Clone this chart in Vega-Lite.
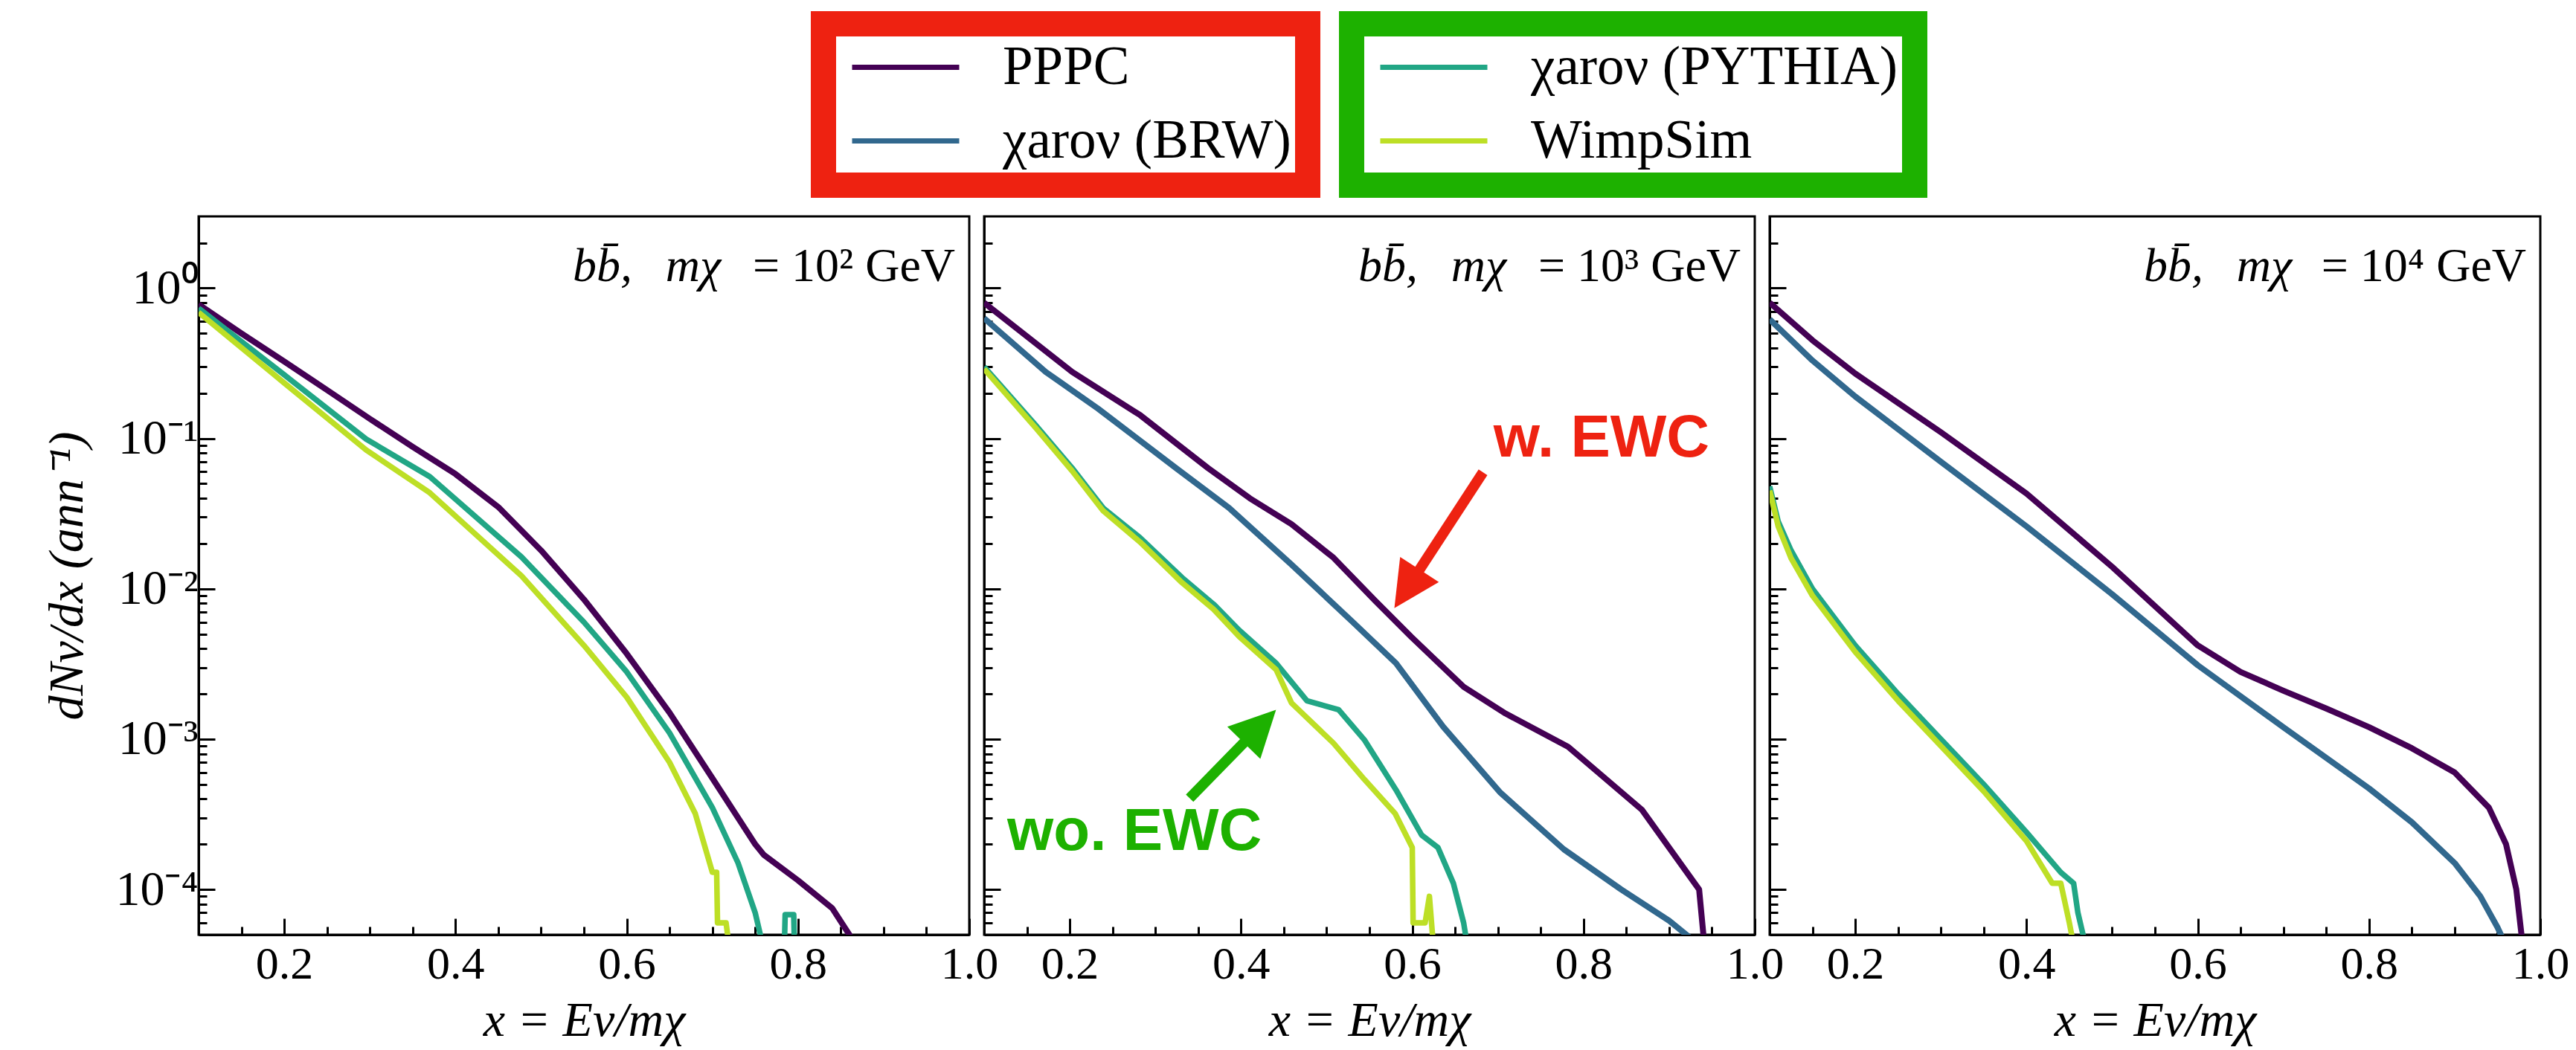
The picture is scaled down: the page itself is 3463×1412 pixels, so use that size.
{
  "$schema": "https://vega.github.io/schema/vega-lite/v6.json",
  "padding": {"left": 56, "top": 15, "right": 40, "bottom": 5},
  "bounds": "flush",
  "spacing": 20,
  "datasets": {
    "curves": [
      {"panel": "p1", "series": "PPPC", "x": 0.1, "y": 0.78},
      {"panel": "p1", "series": "PPPC", "x": 0.15, "y": 0.5},
      {"panel": "p1", "series": "PPPC", "x": 0.2, "y": 0.325},
      {"panel": "p1", "series": "PPPC", "x": 0.25, "y": 0.21},
      {"panel": "p1", "series": "PPPC", "x": 0.3, "y": 0.135},
      {"panel": "p1", "series": "PPPC", "x": 0.35, "y": 0.088},
      {"panel": "p1", "series": "PPPC", "x": 0.4, "y": 0.058},
      {"panel": "p1", "series": "PPPC", "x": 0.45, "y": 0.035},
      {"panel": "p1", "series": "PPPC", "x": 0.5, "y": 0.018},
      {"panel": "p1", "series": "PPPC", "x": 0.55, "y": 0.0085},
      {"panel": "p1", "series": "PPPC", "x": 0.6, "y": 0.0037},
      {"panel": "p1", "series": "PPPC", "x": 0.65, "y": 0.0015},
      {"panel": "p1", "series": "PPPC", "x": 0.7, "y": 0.00055},
      {"panel": "p1", "series": "PPPC", "x": 0.75, "y": 0.0002},
      {"panel": "p1", "series": "PPPC", "x": 0.76, "y": 0.00017},
      {"panel": "p1", "series": "PPPC", "x": 0.8, "y": 0.000115},
      {"panel": "p1", "series": "PPPC", "x": 0.84, "y": 0.000075},
      {"panel": "p1", "series": "PPPC", "x": 0.86, "y": 0.00005},
      {"panel": "p1", "series": "PPPC", "x": 0.87, "y": 0.00004},

      {"panel": "p1", "series": "χaroν (PYTHIA)", "x": 0.1, "y": 0.735},
      {"panel": "p1", "series": "χaroν (PYTHIA)", "x": 0.2, "y": 0.265},
      {"panel": "p1", "series": "χaroν (PYTHIA)", "x": 0.2957, "y": 0.099},
      {"panel": "p1", "series": "χaroν (PYTHIA)", "x": 0.37, "y": 0.0557},
      {"panel": "p1", "series": "χaroν (PYTHIA)", "x": 0.477, "y": 0.0163},
      {"panel": "p1", "series": "χaroν (PYTHIA)", "x": 0.55, "y": 0.006},
      {"panel": "p1", "series": "χaroν (PYTHIA)", "x": 0.6, "y": 0.0028},
      {"panel": "p1", "series": "χaroν (PYTHIA)", "x": 0.65, "y": 0.0011},
      {"panel": "p1", "series": "χaroν (PYTHIA)", "x": 0.7, "y": 0.00035},
      {"panel": "p1", "series": "χaroν (PYTHIA)", "x": 0.73, "y": 0.00015},
      {"panel": "p1", "series": "χaroν (PYTHIA)", "x": 0.75, "y": 0.00007},
      {"panel": "p1", "series": "χaroν (PYTHIA)", "x": 0.76, "y": 0.00004},
      {"panel": "p1", "series": "χaroν (PYTHIA)", "x": 0.784, "y": 0.00004},
      {"panel": "p1", "series": "χaroν (PYTHIA)", "x": 0.785, "y": 0.000068},
      {"panel": "p1", "series": "χaroν (PYTHIA)", "x": 0.795, "y": 0.000068},
      {"panel": "p1", "series": "χaroν (PYTHIA)", "x": 0.796, "y": 0.00004},

      {"panel": "p1", "series": "WimpSim", "x": 0.1, "y": 0.69},
      {"panel": "p1", "series": "WimpSim", "x": 0.2, "y": 0.234},
      {"panel": "p1", "series": "WimpSim", "x": 0.2957, "y": 0.0838},
      {"panel": "p1", "series": "WimpSim", "x": 0.37, "y": 0.0435},
      {"panel": "p1", "series": "WimpSim", "x": 0.477, "y": 0.0122},
      {"panel": "p1", "series": "WimpSim", "x": 0.55, "y": 0.0042},
      {"panel": "p1", "series": "WimpSim", "x": 0.6, "y": 0.0019},
      {"panel": "p1", "series": "WimpSim", "x": 0.65, "y": 0.0007},
      {"panel": "p1", "series": "WimpSim", "x": 0.68, "y": 0.00032},
      {"panel": "p1", "series": "WimpSim", "x": 0.7, "y": 0.00013},
      {"panel": "p1", "series": "WimpSim", "x": 0.705, "y": 0.00013},
      {"panel": "p1", "series": "WimpSim", "x": 0.706, "y": 0.00006},
      {"panel": "p1", "series": "WimpSim", "x": 0.716, "y": 0.00006},
      {"panel": "p1", "series": "WimpSim", "x": 0.72, "y": 0.00004},

      {"panel": "p2", "series": "PPPC", "x": 0.1, "y": 0.8},
      {"panel": "p2", "series": "PPPC", "x": 0.2028, "y": 0.277},
      {"panel": "p2", "series": "PPPC", "x": 0.2822, "y": 0.143},
      {"panel": "p2", "series": "PPPC", "x": 0.3615, "y": 0.0635},
      {"panel": "p2", "series": "PPPC", "x": 0.4103, "y": 0.04},
      {"panel": "p2", "series": "PPPC", "x": 0.459, "y": 0.0269},
      {"panel": "p2", "series": "PPPC", "x": 0.508, "y": 0.0161},
      {"panel": "p2", "series": "PPPC", "x": 0.5567, "y": 0.00833},
      {"panel": "p2", "series": "PPPC", "x": 0.599, "y": 0.00478},
      {"panel": "p2", "series": "PPPC", "x": 0.66, "y": 0.00223},
      {"panel": "p2", "series": "PPPC", "x": 0.709, "y": 0.00148},
      {"panel": "p2", "series": "PPPC", "x": 0.782, "y": 0.00089},
      {"panel": "p2", "series": "PPPC", "x": 0.868, "y": 0.00034},
      {"panel": "p2", "series": "PPPC", "x": 0.935, "y": 0.0001},
      {"panel": "p2", "series": "PPPC", "x": 0.94, "y": 0.00005},
      {"panel": "p2", "series": "PPPC", "x": 0.945, "y": 0.00003},

      {"panel": "p2", "series": "χaroν (BRW)", "x": 0.1, "y": 0.63},
      {"panel": "p2", "series": "χaroν (BRW)", "x": 0.172, "y": 0.277},
      {"panel": "p2", "series": "χaroν (BRW)", "x": 0.233, "y": 0.158},
      {"panel": "p2", "series": "χaroν (BRW)", "x": 0.325, "y": 0.063},
      {"panel": "p2", "series": "χaroν (BRW)", "x": 0.386, "y": 0.0345},
      {"panel": "p2", "series": "χaroν (BRW)", "x": 0.459, "y": 0.0145},
      {"panel": "p2", "series": "χaroν (BRW)", "x": 0.532, "y": 0.0059},
      {"panel": "p2", "series": "χaroν (BRW)", "x": 0.581, "y": 0.0032},
      {"panel": "p2", "series": "χaroν (BRW)", "x": 0.636, "y": 0.00121},
      {"panel": "p2", "series": "χaroν (BRW)", "x": 0.703, "y": 0.00044},
      {"panel": "p2", "series": "χaroν (BRW)", "x": 0.777, "y": 0.000185},
      {"panel": "p2", "series": "χaroν (BRW)", "x": 0.844, "y": 0.0001},
      {"panel": "p2", "series": "χaroν (BRW)", "x": 0.9, "y": 0.000062},
      {"panel": "p2", "series": "χaroν (BRW)", "x": 0.93, "y": 0.000045},

      {"panel": "p2", "series": "χaroν (PYTHIA)", "x": 0.1, "y": 0.3},
      {"panel": "p2", "series": "χaroν (PYTHIA)", "x": 0.16, "y": 0.123},
      {"panel": "p2", "series": "χaroν (PYTHIA)", "x": 0.2026, "y": 0.0638},
      {"panel": "p2", "series": "χaroν (PYTHIA)", "x": 0.239, "y": 0.0345},
      {"panel": "p2", "series": "χaroν (PYTHIA)", "x": 0.282, "y": 0.0219},
      {"panel": "p2", "series": "χaroν (PYTHIA)", "x": 0.331, "y": 0.0119},
      {"panel": "p2", "series": "χaroν (PYTHIA)", "x": 0.368, "y": 0.0079},
      {"panel": "p2", "series": "χaroν (PYTHIA)", "x": 0.398, "y": 0.0053},
      {"panel": "p2", "series": "χaroν (PYTHIA)", "x": 0.441, "y": 0.0032},
      {"panel": "p2", "series": "χaroν (PYTHIA)", "x": 0.477, "y": 0.0018},
      {"panel": "p2", "series": "χaroν (PYTHIA)", "x": 0.514, "y": 0.00157},
      {"panel": "p2", "series": "χaroν (PYTHIA)", "x": 0.544, "y": 0.00099},
      {"panel": "p2", "series": "χaroν (PYTHIA)", "x": 0.581, "y": 0.00046},
      {"panel": "p2", "series": "χaroν (PYTHIA)", "x": 0.611, "y": 0.00023},
      {"panel": "p2", "series": "χaroν (PYTHIA)", "x": 0.63, "y": 0.00019},
      {"panel": "p2", "series": "χaroν (PYTHIA)", "x": 0.648, "y": 0.00011},
      {"panel": "p2", "series": "χaroν (PYTHIA)", "x": 0.66, "y": 0.00006},
      {"panel": "p2", "series": "χaroν (PYTHIA)", "x": 0.665, "y": 0.00004},

      {"panel": "p2", "series": "WimpSim", "x": 0.1, "y": 0.29},
      {"panel": "p2", "series": "WimpSim", "x": 0.16, "y": 0.118},
      {"panel": "p2", "series": "WimpSim", "x": 0.2026, "y": 0.061},
      {"panel": "p2", "series": "WimpSim", "x": 0.239, "y": 0.033},
      {"panel": "p2", "series": "WimpSim", "x": 0.282, "y": 0.0205},
      {"panel": "p2", "series": "WimpSim", "x": 0.331, "y": 0.011},
      {"panel": "p2", "series": "WimpSim", "x": 0.368, "y": 0.0073},
      {"panel": "p2", "series": "WimpSim", "x": 0.398, "y": 0.0048},
      {"panel": "p2", "series": "WimpSim", "x": 0.441, "y": 0.0029},
      {"panel": "p2", "series": "WimpSim", "x": 0.459, "y": 0.00174},
      {"panel": "p2", "series": "WimpSim", "x": 0.508, "y": 0.00094},
      {"panel": "p2", "series": "WimpSim", "x": 0.544, "y": 0.00054},
      {"panel": "p2", "series": "WimpSim", "x": 0.58, "y": 0.00032},
      {"panel": "p2", "series": "WimpSim", "x": 0.6, "y": 0.00019},
      {"panel": "p2", "series": "WimpSim", "x": 0.601, "y": 0.00006},
      {"panel": "p2", "series": "WimpSim", "x": 0.615, "y": 0.00006},
      {"panel": "p2", "series": "WimpSim", "x": 0.62, "y": 0.00009},
      {"panel": "p2", "series": "WimpSim", "x": 0.625, "y": 0.00004},

      {"panel": "p3", "series": "PPPC", "x": 0.1, "y": 0.8},
      {"panel": "p3", "series": "PPPC", "x": 0.15, "y": 0.45},
      {"panel": "p3", "series": "PPPC", "x": 0.2, "y": 0.27},
      {"panel": "p3", "series": "PPPC", "x": 0.3, "y": 0.11},
      {"panel": "p3", "series": "PPPC", "x": 0.4, "y": 0.043},
      {"panel": "p3", "series": "PPPC", "x": 0.5, "y": 0.014},
      {"panel": "p3", "series": "PPPC", "x": 0.6, "y": 0.0042},
      {"panel": "p3", "series": "PPPC", "x": 0.65, "y": 0.0028},
      {"panel": "p3", "series": "PPPC", "x": 0.7, "y": 0.0021},
      {"panel": "p3", "series": "PPPC", "x": 0.75, "y": 0.0016},
      {"panel": "p3", "series": "PPPC", "x": 0.8, "y": 0.0012},
      {"panel": "p3", "series": "PPPC", "x": 0.85, "y": 0.00087},
      {"panel": "p3", "series": "PPPC", "x": 0.9, "y": 0.0006},
      {"panel": "p3", "series": "PPPC", "x": 0.94, "y": 0.00035},
      {"panel": "p3", "series": "PPPC", "x": 0.96, "y": 0.0002},
      {"panel": "p3", "series": "PPPC", "x": 0.972, "y": 0.0001},
      {"panel": "p3", "series": "PPPC", "x": 0.98, "y": 0.00004},

      {"panel": "p3", "series": "χaroν (BRW)", "x": 0.1, "y": 0.62},
      {"panel": "p3", "series": "χaroν (BRW)", "x": 0.15, "y": 0.33},
      {"panel": "p3", "series": "χaroν (BRW)", "x": 0.2, "y": 0.19},
      {"panel": "p3", "series": "χaroν (BRW)", "x": 0.3, "y": 0.07},
      {"panel": "p3", "series": "χaroν (BRW)", "x": 0.4, "y": 0.026},
      {"panel": "p3", "series": "χaroν (BRW)", "x": 0.5, "y": 0.0092},
      {"panel": "p3", "series": "χaroν (BRW)", "x": 0.6, "y": 0.0031},
      {"panel": "p3", "series": "χaroν (BRW)", "x": 0.7, "y": 0.0012},
      {"panel": "p3", "series": "χaroν (BRW)", "x": 0.8, "y": 0.00047},
      {"panel": "p3", "series": "χaroν (BRW)", "x": 0.85, "y": 0.00028},
      {"panel": "p3", "series": "χaroν (BRW)", "x": 0.9, "y": 0.00015},
      {"panel": "p3", "series": "χaroν (BRW)", "x": 0.93, "y": 0.00009},
      {"panel": "p3", "series": "χaroν (BRW)", "x": 0.95, "y": 0.000056},
      {"panel": "p3", "series": "χaroν (BRW)", "x": 0.962, "y": 0.00004},

      {"panel": "p3", "series": "χaroν (PYTHIA)", "x": 0.1, "y": 0.048},
      {"panel": "p3", "series": "χaroν (PYTHIA)", "x": 0.11, "y": 0.028},
      {"panel": "p3", "series": "χaroν (PYTHIA)", "x": 0.125, "y": 0.018},
      {"panel": "p3", "series": "χaroν (PYTHIA)", "x": 0.15, "y": 0.01},
      {"panel": "p3", "series": "χaroν (PYTHIA)", "x": 0.2, "y": 0.0042},
      {"panel": "p3", "series": "χaroν (PYTHIA)", "x": 0.25, "y": 0.002},
      {"panel": "p3", "series": "χaroν (PYTHIA)", "x": 0.3, "y": 0.001},
      {"panel": "p3", "series": "χaroν (PYTHIA)", "x": 0.35, "y": 0.0005},
      {"panel": "p3", "series": "χaroν (PYTHIA)", "x": 0.4, "y": 0.00024},
      {"panel": "p3", "series": "χaroν (PYTHIA)", "x": 0.44, "y": 0.00013},
      {"panel": "p3", "series": "χaroν (PYTHIA)", "x": 0.455, "y": 0.00011},
      {"panel": "p3", "series": "χaroν (PYTHIA)", "x": 0.46, "y": 0.00007},
      {"panel": "p3", "series": "χaroν (PYTHIA)", "x": 0.47, "y": 0.00004},

      {"panel": "p3", "series": "WimpSim", "x": 0.1, "y": 0.045},
      {"panel": "p3", "series": "WimpSim", "x": 0.11, "y": 0.026},
      {"panel": "p3", "series": "WimpSim", "x": 0.125, "y": 0.016},
      {"panel": "p3", "series": "WimpSim", "x": 0.15, "y": 0.009},
      {"panel": "p3", "series": "WimpSim", "x": 0.2, "y": 0.0038},
      {"panel": "p3", "series": "WimpSim", "x": 0.25, "y": 0.0018},
      {"panel": "p3", "series": "WimpSim", "x": 0.3, "y": 0.0009},
      {"panel": "p3", "series": "WimpSim", "x": 0.35, "y": 0.00045},
      {"panel": "p3", "series": "WimpSim", "x": 0.4, "y": 0.00021},
      {"panel": "p3", "series": "WimpSim", "x": 0.43, "y": 0.00011},
      {"panel": "p3", "series": "WimpSim", "x": 0.44, "y": 0.00011},
      {"panel": "p3", "series": "WimpSim", "x": 0.45, "y": 0.00006},
      {"panel": "p3", "series": "WimpSim", "x": 0.456, "y": 0.00004}
    ]
  },
  "data": {"name": "curves"},
  "hconcat": [
    {
      "width": 1036,
      "height": 966,
      "layer": [
        {
          "transform": [{"filter": {"field": "panel", "equal": "p1"}}, {"filter": {"field": "series", "oneOf": ["PPPC", "χaroν (BRW)"]}}],
          "mark": {"type": "line", "strokeWidth": 8, "strokeJoin": "round", "clip": true},
          "encoding": {
            "x": {"field": "x", "type": "quantitative", "scale": {"domain": [0.1, 1.0], "nice": false, "zero": false},
              "axis": {"values": [0.15,0.2,0.25,0.3,0.35,0.4,0.45,0.5,0.55,0.6,0.65,0.7,0.75,0.8,0.85,0.9,0.95,1],
                "labelExpr": "(datum.value == 0.2 || datum.value == 0.4 || datum.value == 0.6 || datum.value == 0.8 || datum.value == 1) ? format(datum.value, '.1f') : ''",
                "tickSize": {"condition": {"test": "datum.value == 0.2 || datum.value == 0.4 || datum.value == 0.6 || datum.value == 0.8 || datum.value == 1", "value": -22}, "value": -11},
                "labelPadding": 31, "labelFontSize": 62, "title": "x = Eν/mχ", "titlePadding": 2}},
            "y": {"field": "y", "type": "quantitative", "scale": {"type": "log", "domain": [0.00005, 3], "nice": false},
              "axis": {"values": [6e-5,7e-5,8e-5,9e-5,0.0001,0.0002,0.0003,0.0004,0.0005,0.0006,0.0007,0.0008,0.0009,0.001,0.002,0.003,0.004,0.005,0.006,0.007,0.008,0.009,0.01,0.02,0.03,0.04,0.05,0.06,0.07,0.08,0.09,0.1,0.2,0.3,0.4,0.5,0.6,0.7,0.8,0.9,1,2],
                "labelExpr": "datum.value == 1 ? '10⁰' : datum.value == 0.1 ? '10⁻¹' : datum.value == 0.01 ? '10⁻²' : datum.value == 0.001 ? '10⁻³' : datum.value == 0.0001 ? '10⁻⁴' : ''",
                "tickSize": {"condition": {"test": "datum.value == 1 || datum.value == 0.1 || datum.value == 0.01 || datum.value == 0.001 || datum.value == 0.0001", "value": -22}, "value": -11},
                "labelPadding": 23, "labelFontSize": 66, "title": "dNν/dx (ann⁻¹)", "titlePadding": 30}},
            "color": {"field": "series", "type": "nominal", "scale": {"domain": ["PPPC", "χaroν (BRW)"], "range": ["#440154", "#31688e"]},
              "legend": {"title": null, "orient": "none", "legendX": 840, "legendY": -259, "strokeColor": "#ee2211", "fillColor": "white", "padding": 22, "symbolType": "M-0.645,0H4", "symbolSize": 3844, "symbolStrokeWidth": 7, "labelFont": "Liberation Serif", "labelFontSize": 73, "labelOffset": 146, "labelLimit": 1000, "rowPadding": 25, "direction": "vertical"}}
          }
        },
        {
          "transform": [{"filter": {"field": "panel", "equal": "p1"}}, {"filter": {"field": "series", "oneOf": ["χaroν (PYTHIA)", "WimpSim"]}}],
          "mark": {"type": "line", "strokeWidth": 7.5, "strokeJoin": "round", "clip": true},
          "encoding": {
            "x": {"field": "x", "type": "quantitative"},
            "y": {"field": "y", "type": "quantitative"},
            "stroke": {"field": "series", "type": "nominal", "scale": {"domain": ["χaroν (PYTHIA)", "WimpSim"], "range": ["#21a685", "#bddf26"]},
              "legend": {"title": null, "orient": "none", "legendX": 1550, "legendY": -259, "strokeColor": "#1db100", "fillColor": "white", "padding": 22, "symbolType": "M-0.645,0H4", "symbolSize": 3844, "symbolStrokeWidth": 7, "labelFont": "Liberation Serif", "labelFontSize": 73, "labelOffset": 146, "labelLimit": 1000, "rowPadding": 25, "direction": "vertical"}}
          }
        },
        {
          "data": {"values": [{}]},
          "mark": {"type": "text", "align": "right", "baseline": "alphabetic", "font": "Liberation Serif", "fontSize": 64, "fontStyle": "italic", "color": "black"},
          "encoding": {"x": {"datum": 0.71, "type": "quantitative"}, "y": {"datum": 1.12, "type": "quantitative"}, "text": {"value": "bb̄,\u2002\u2009mχ"}}
        },
        {
          "data": {"values": [{}]},
          "mark": {"type": "text", "align": "right", "baseline": "alphabetic", "font": "Liberation Serif", "fontSize": 64, "color": "black"},
          "encoding": {"x": {"datum": 0.9835, "type": "quantitative"}, "y": {"datum": 1.12, "type": "quantitative"}, "text": {"value": "= 10² GeV"}}
        }
      ]
    },
    {
      "width": 1036,
      "height": 966,
      "layer": [
        {
          "transform": [{"filter": {"field": "panel", "equal": "p2"}}, {"filter": {"field": "series", "oneOf": ["PPPC", "χaroν (BRW)"]}}],
          "mark": {"type": "line", "strokeWidth": 8, "strokeJoin": "round", "clip": true},
          "encoding": {
            "x": {"field": "x", "type": "quantitative", "scale": {"domain": [0.1, 1.0], "nice": false, "zero": false},
              "axis": {"values": [0.15,0.2,0.25,0.3,0.35,0.4,0.45,0.5,0.55,0.6,0.65,0.7,0.75,0.8,0.85,0.9,0.95,1],
                "labelExpr": "(datum.value == 0.2 || datum.value == 0.4 || datum.value == 0.6 || datum.value == 0.8 || datum.value == 1) ? format(datum.value, '.1f') : ''",
                "tickSize": {"condition": {"test": "datum.value == 0.2 || datum.value == 0.4 || datum.value == 0.6 || datum.value == 0.8 || datum.value == 1", "value": -22}, "value": -11},
                "labelPadding": 31, "labelFontSize": 62, "title": "x = Eν/mχ", "titlePadding": 2}},
            "y": {"field": "y", "type": "quantitative", "scale": {"type": "log", "domain": [0.00005, 3], "nice": false},
              "axis": {"values": [6e-5,7e-5,8e-5,9e-5,0.0001,0.0002,0.0003,0.0004,0.0005,0.0006,0.0007,0.0008,0.0009,0.001,0.002,0.003,0.004,0.005,0.006,0.007,0.008,0.009,0.01,0.02,0.03,0.04,0.05,0.06,0.07,0.08,0.09,0.1,0.2,0.3,0.4,0.5,0.6,0.7,0.8,0.9,1,2],
                "labels": false,
                "tickSize": {"condition": {"test": "datum.value == 1 || datum.value == 0.1 || datum.value == 0.01 || datum.value == 0.001 || datum.value == 0.0001", "value": -22}, "value": -11},
                "title": null}},
            "color": {"field": "series", "type": "nominal", "scale": {"domain": ["PPPC", "χaroν (BRW)"], "range": ["#440154", "#31688e"]},
              "legend": {"title": null, "orient": "none", "legendX": 840, "legendY": -259, "strokeColor": "#ee2211", "fillColor": "white", "padding": 22, "symbolType": "M-0.645,0H4", "symbolSize": 3844, "symbolStrokeWidth": 7, "labelFont": "Liberation Serif", "labelFontSize": 73, "labelOffset": 146, "labelLimit": 1000, "rowPadding": 25, "direction": "vertical"}}
          }
        },
        {
          "transform": [{"filter": {"field": "panel", "equal": "p2"}}, {"filter": {"field": "series", "oneOf": ["χaroν (PYTHIA)", "WimpSim"]}}],
          "mark": {"type": "line", "strokeWidth": 7.5, "strokeJoin": "round", "clip": true},
          "encoding": {
            "x": {"field": "x", "type": "quantitative"},
            "y": {"field": "y", "type": "quantitative"},
            "stroke": {"field": "series", "type": "nominal", "scale": {"domain": ["χaroν (PYTHIA)", "WimpSim"], "range": ["#21a685", "#bddf26"]},
              "legend": {"title": null, "orient": "none", "legendX": 1550, "legendY": -259, "strokeColor": "#1db100", "fillColor": "white", "padding": 22, "symbolType": "M-0.645,0H4", "symbolSize": 3844, "symbolStrokeWidth": 7, "labelFont": "Liberation Serif", "labelFontSize": 73, "labelOffset": 146, "labelLimit": 1000, "rowPadding": 25, "direction": "vertical"}}
          }
        },
        {
          "data": {"values": [{}]},
          "mark": {"type": "text", "align": "right", "baseline": "alphabetic", "font": "Liberation Serif", "fontSize": 64, "fontStyle": "italic", "color": "black"},
          "encoding": {"x": {"datum": 0.71, "type": "quantitative"}, "y": {"datum": 1.12, "type": "quantitative"}, "text": {"value": "bb̄,\u2002\u2009mχ"}}
        },
        {
          "data": {"values": [{}]},
          "mark": {"type": "text", "align": "right", "baseline": "alphabetic", "font": "Liberation Serif", "fontSize": 64, "color": "black"},
          "encoding": {"x": {"datum": 0.9835, "type": "quantitative"}, "y": {"datum": 1.12, "type": "quantitative"}, "text": {"value": "= 10³ GeV"}}
        },
        {
          "data": {"values": [{}]},
          "mark": {"type": "text", "align": "left", "baseline": "alphabetic", "font": "Liberation Sans", "fontSize": 80, "fontWeight": "bold", "color": "#ee2211"},
          "encoding": {"x": {"datum": 0.6948, "type": "quantitative"}, "y": {"datum": 0.0757, "type": "quantitative"}, "text": {"value": "w. EWC"}}
        },
        {
          "data": {"values": [{}]},
          "mark": {"type": "text", "align": "left", "baseline": "alphabetic", "font": "Liberation Sans", "fontSize": 80, "fontWeight": "bold", "color": "#1db100"},
          "encoding": {"x": {"datum": 0.127, "type": "quantitative"}, "y": {"datum": 0.000183, "type": "quantitative"}, "text": {"value": "wo. EWC"}}
        },
        {
          "data": {"values": [{}]},
          "mark": {"type": "rule", "strokeWidth": 14, "color": "#ee2211", "strokeCap": "butt"},
          "encoding": {"x": {"datum": 0.6826, "type": "quantitative"}, "y": {"datum": 0.0596, "type": "quantitative"}, "x2": {"datum": 0.5981}, "y2": {"datum": 0.01089}}
        },
        {
          "data": {"values": [{}]},
          "mark": {"type": "point", "shape": "M0,0L-1,2L1,2Z", "size": 3844, "filled": true, "color": "#ee2211", "opacity": 1, "strokeWidth": 0, "angle": 213},
          "encoding": {"x": {"datum": 0.5791, "type": "quantitative"}, "y": {"datum": 0.00744, "type": "quantitative"}}
        },
        {
          "data": {"values": [{}]},
          "mark": {"type": "rule", "strokeWidth": 14, "color": "#1db100", "strokeCap": "butt"},
          "encoding": {"x": {"datum": 0.34, "type": "quantitative"}, "y": {"datum": 0.000405, "type": "quantitative"}, "x2": {"datum": 0.4166}, "y2": {"datum": 0.001132}}
        },
        {
          "data": {"values": [{}]},
          "mark": {"type": "point", "shape": "M0,0L-1,2L1,2Z", "size": 3844, "filled": true, "color": "#1db100", "opacity": 1, "strokeWidth": 0, "angle": 44.3},
          "encoding": {"x": {"datum": 0.4409, "type": "quantitative"}, "y": {"datum": 0.001567, "type": "quantitative"}}
        }
      ]
    },
    {
      "width": 1036,
      "height": 966,
      "layer": [
        {
          "transform": [{"filter": {"field": "panel", "equal": "p3"}}, {"filter": {"field": "series", "oneOf": ["PPPC", "χaroν (BRW)"]}}],
          "mark": {"type": "line", "strokeWidth": 8, "strokeJoin": "round", "clip": true},
          "encoding": {
            "x": {"field": "x", "type": "quantitative", "scale": {"domain": [0.1, 1.0], "nice": false, "zero": false},
              "axis": {"values": [0.15,0.2,0.25,0.3,0.35,0.4,0.45,0.5,0.55,0.6,0.65,0.7,0.75,0.8,0.85,0.9,0.95,1],
                "labelExpr": "(datum.value == 0.2 || datum.value == 0.4 || datum.value == 0.6 || datum.value == 0.8 || datum.value == 1) ? format(datum.value, '.1f') : ''",
                "tickSize": {"condition": {"test": "datum.value == 0.2 || datum.value == 0.4 || datum.value == 0.6 || datum.value == 0.8 || datum.value == 1", "value": -22}, "value": -11},
                "labelPadding": 31, "labelFontSize": 62, "title": "x = Eν/mχ", "titlePadding": 2}},
            "y": {"field": "y", "type": "quantitative", "scale": {"type": "log", "domain": [0.00005, 3], "nice": false},
              "axis": {"values": [6e-5,7e-5,8e-5,9e-5,0.0001,0.0002,0.0003,0.0004,0.0005,0.0006,0.0007,0.0008,0.0009,0.001,0.002,0.003,0.004,0.005,0.006,0.007,0.008,0.009,0.01,0.02,0.03,0.04,0.05,0.06,0.07,0.08,0.09,0.1,0.2,0.3,0.4,0.5,0.6,0.7,0.8,0.9,1,2],
                "labels": false,
                "tickSize": {"condition": {"test": "datum.value == 1 || datum.value == 0.1 || datum.value == 0.01 || datum.value == 0.001 || datum.value == 0.0001", "value": -22}, "value": -11},
                "title": null}},
            "color": {"field": "series", "type": "nominal", "scale": {"domain": ["PPPC", "χaroν (BRW)"], "range": ["#440154", "#31688e"]},
              "legend": {"title": null, "orient": "none", "legendX": 840, "legendY": -259, "strokeColor": "#ee2211", "fillColor": "white", "padding": 22, "symbolType": "M-0.645,0H4", "symbolSize": 3844, "symbolStrokeWidth": 7, "labelFont": "Liberation Serif", "labelFontSize": 73, "labelOffset": 146, "labelLimit": 1000, "rowPadding": 25, "direction": "vertical"}}
          }
        },
        {
          "transform": [{"filter": {"field": "panel", "equal": "p3"}}, {"filter": {"field": "series", "oneOf": ["χaroν (PYTHIA)", "WimpSim"]}}],
          "mark": {"type": "line", "strokeWidth": 7.5, "strokeJoin": "round", "clip": true},
          "encoding": {
            "x": {"field": "x", "type": "quantitative"},
            "y": {"field": "y", "type": "quantitative"},
            "stroke": {"field": "series", "type": "nominal", "scale": {"domain": ["χaroν (PYTHIA)", "WimpSim"], "range": ["#21a685", "#bddf26"]},
              "legend": {"title": null, "orient": "none", "legendX": 1550, "legendY": -259, "strokeColor": "#1db100", "fillColor": "white", "padding": 22, "symbolType": "M-0.645,0H4", "symbolSize": 3844, "symbolStrokeWidth": 7, "labelFont": "Liberation Serif", "labelFontSize": 73, "labelOffset": 146, "labelLimit": 1000, "rowPadding": 25, "direction": "vertical"}}
          }
        },
        {
          "data": {"values": [{}]},
          "mark": {"type": "text", "align": "right", "baseline": "alphabetic", "font": "Liberation Serif", "fontSize": 64, "fontStyle": "italic", "color": "black"},
          "encoding": {"x": {"datum": 0.71, "type": "quantitative"}, "y": {"datum": 1.12, "type": "quantitative"}, "text": {"value": "bb̄,\u2002\u2009mχ"}}
        },
        {
          "data": {"values": [{}]},
          "mark": {"type": "text", "align": "right", "baseline": "alphabetic", "font": "Liberation Serif", "fontSize": 64, "color": "black"},
          "encoding": {"x": {"datum": 0.9835, "type": "quantitative"}, "y": {"datum": 1.12, "type": "quantitative"}, "text": {"value": "= 10⁴ GeV"}}
        }
      ]
    }
  ],
  "config": {
    "font": "Liberation Serif",
    "view": {"stroke": "black", "strokeWidth": 3},
    "axis": {"grid": false, "domainColor": "black", "domainWidth": 3, "tickColor": "black", "tickWidth": 3, "labelFont": "Liberation Serif", "labelFontSize": 62, "labelColor": "black", "titleFont": "Liberation Serif", "titleFontSize": 66, "titleFontWeight": "normal", "titleFontStyle": "italic", "titleColor": "black", "labelFlush": false, "labelOverlap": false, "labelBound": false},
    "legend": {"strokeWidth": 34, "labelColor": "black", "labelFont": "Liberation Serif"}
  }
}
